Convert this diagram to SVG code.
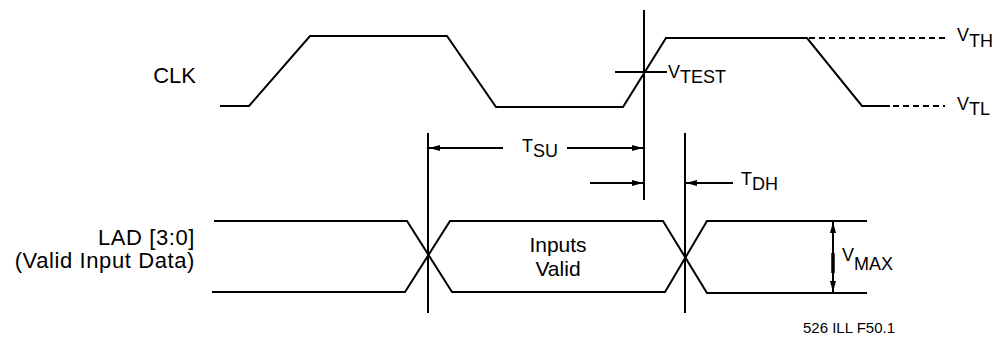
<svg xmlns="http://www.w3.org/2000/svg" width="1000" height="337" viewBox="0 0 1000 337">
<style>
.w{fill:none;stroke:#000;stroke-width:2;stroke-linejoin:miter}
.d{fill:none;stroke:#000;stroke-width:2;stroke-dasharray:6 4}
.t{font-family:"Liberation Sans",Arial,sans-serif;fill:#000}
.m{font-size:22px}
.s{font-size:18px}
.ls{letter-spacing:0.6px}
</style>
<defs>
<marker id="ah" viewBox="0 0 11 6" refX="11" refY="3" markerWidth="11" markerHeight="6" markerUnits="userSpaceOnUse" orient="auto">
<path d="M0,0 L11,3 L0,6 Z" fill="#000"/>
</marker>
</defs>
<rect width="1000" height="337" fill="#fff"/>
<g id="clk">
<path class="w" d="M220,106 H249 L310,36 H447 L496,107 H623 L666,38 H807 L862,106 H890"/>
<path class="d" d="M809,38 H945"/>
<path class="d" d="M893,106 H945"/>
<text class="t m" x="196" y="83" text-anchor="end">CLK</text>
</g>
<g id="lad">
<path class="w" d="M214,221 H407 L452,292 H665 L707,221 H867"/>
<path class="w" d="M212,292 H405 L450,221 H663 L707,293 H867"/>
<text class="t m ls" x="195" y="245" text-anchor="end">LAD [3:0]</text>
<text class="t m ls" x="195" y="268" text-anchor="end">(Valid Input Data)</text>
<text class="t" style="font-size:21px" x="558" y="252" text-anchor="middle">Inputs</text>
<text class="t" style="font-size:21px" x="558" y="276" text-anchor="middle">Valid</text>
</g>
<g id="refs">
<line class="w" x1="644" y1="10" x2="644" y2="200"/>
<line class="w" x1="615" y1="72" x2="667" y2="72"/>
<line class="w" x1="428" y1="133" x2="428" y2="313"/>
<line class="w" x1="685" y1="133" x2="685" y2="313"/>
</g>
<g id="connectors">
<line class="w" x1="503" y1="148" x2="429" y2="148" marker-end="url(#ah)"/>
<line class="w" x1="567" y1="148" x2="643" y2="148" marker-end="url(#ah)"/>
<line class="w" x1="590" y1="183" x2="643" y2="183" marker-end="url(#ah)"/>
<line class="w" x1="733" y1="183" x2="686" y2="183" marker-end="url(#ah)"/>
<line class="w" x1="833" y1="257" x2="833" y2="222" marker-end="url(#ah)"/>
<line class="w" x1="833" y1="257" x2="833" y2="292" marker-end="url(#ah)"/>
<line x1="833" y1="253" x2="833" y2="273" stroke="#000" stroke-width="3.5"/>
</g>
<g id="labels">
<text class="t s" x="668" y="78">V<tspan dy="5">TEST</tspan></text>
<text class="t s" x="957" y="41">V<tspan dy="6">TH</tspan></text>
<text class="t s" x="957" y="110">V<tspan dy="5">TL</tspan></text>
<text class="t s" x="522" y="152">T<tspan dy="5">SU</tspan></text>
<text class="t s" x="741" y="185">T<tspan dy="5">DH</tspan></text>
<text class="t s" x="842" y="261">V<tspan dy="9">MAX</tspan></text>
<text class="t" style="font-size:15px" x="803" y="333">526 ILL F50.1</text>
</g>
</svg>
